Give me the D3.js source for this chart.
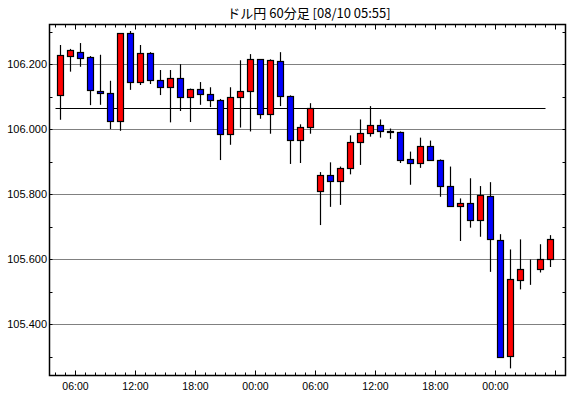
<!DOCTYPE html>
<html>
<head>
<meta charset="utf-8">
<script src="https://cdn.jsdelivr.net/npm/d3@7"></script>
<style>
body { margin: 0; background: #fff; }
text { font-family: "Liberation Sans", Arial, sans-serif; fill: #000; }
</style>
</head>
<body>
<div id="chart"></div>
<script>
var svgWidth = 570;
var svgHeight = 398;

// frame edges (half pixels so 1px lines stay crisp)
var frame = ({top: 24.5, right: 565.5, bottom: 375.5, left: 49.5})

var title = "ドル円 60分足 [08/10 05:55]";

// hourly candles, 08/08 04:00 .. 08/10 05:00
var firstCandle = new Date(2016, 7, 8, 4);
var lastCandle = new Date(2016, 7, 10, 5);
var times = d3.timeHour.range(firstCandle, d3.timeHour.offset(lastCandle, 1));

var open  = [106.105,106.226,106.237,106.222,106.118,106.112,106.025,106.296,106.146,106.235,
             106.151,106.129,106.157,106.098,106.123,106.108,106.090,105.985,106.098,106.117,
             106.215,106.047,106.209,106.102,105.966,106.006,105.809,105.858,105.840,105.880,
             105.960,105.988,106.012,105.994,105.991,105.908,105.895,105.948,105.905,105.825,
             105.763,105.772,105.720,105.794,105.658,105.302,105.535,105.570,105.569,105.600];
var high  = [106.260,106.248,106.266,106.226,106.230,106.150,106.296,106.303,106.260,106.238,
             106.183,106.183,106.201,106.126,106.146,106.130,106.094,106.130,106.213,106.232,
             106.216,106.216,106.238,106.105,106.016,106.081,105.869,105.899,105.886,105.982,
             106.031,106.072,106.031,106.003,105.994,105.932,105.975,105.966,105.908,105.886,
             105.788,105.850,105.826,105.838,105.678,105.631,105.662,105.600,105.647,105.675];
var low   = [106.030,106.178,106.193,106.075,106.076,106.001,105.996,106.122,106.137,106.140,
             106.106,106.022,106.057,106.023,106.076,106.069,105.906,105.953,106.006,105.994,
             106.033,105.987,106.072,105.894,105.897,105.987,105.706,105.762,105.768,105.862,
             105.891,105.978,105.975,105.971,105.897,105.830,105.882,105.905,105.793,105.763,
             105.657,105.698,105.670,105.562,105.298,105.265,105.508,105.522,105.560,105.577];
var close = [106.228,106.244,106.218,106.120,106.111,106.025,106.296,106.146,106.235,106.151,
             106.129,106.157,106.098,106.123,106.108,106.089,105.985,106.098,106.117,106.215,
             106.047,106.212,106.102,105.966,106.006,106.065,105.858,105.840,105.880,105.960,
             105.988,106.012,105.994,105.990,105.906,105.895,105.948,105.905,105.825,105.763,
             105.772,105.720,105.798,105.662,105.298,105.538,105.569,105.570,105.600,105.662];

// previous close reference line
var refLevel = 106.065;

var yTicks = [105.3, 105.4, 105.5, 105.6, 105.7, 105.8, 105.9, 106.0, 106.1, 106.2, 106.3];
var yLabels = [105.4, 105.6, 105.8, 106.0, 106.2];

var candles = times.map(function(t, i) {
    return {time: t, o: open[i], h: high[i], l: low[i], c: close[i]};
});

var svg = d3.select("#chart")
    .append("svg")
    .attr("width", svgWidth)
    .attr("height", svgHeight);

var xScale = d3.scaleTime()
    .domain([new Date(2016, 7, 8, 3, 24), new Date(2016, 7, 10, 7)])
    .range([frame.left, frame.right]);

var yScale = d3.scaleLinear()
    .domain([105.2431, 106.3231])
    .range([frame.bottom, frame.top]);

function px(v) { return Math.round(v - 0.5) + 0.5; }
function center(d) { return px(xScale(d3.timeMinute.offset(d.time, 30))); }

// title
svg.append("text")
    .attr("x", 309)
    .attr("y", 18)
    .attr("text-anchor", "middle")
    .style("font-family", '"Noto Sans CJK JP", sans-serif')
    .style("font-size", "13px")
    .text(title);

// dotted grid
svg.selectAll(".grid")
    .data(yLabels)
    .enter()
    .append("line")
    .classed("grid", true)
    .attr("x1", frame.left)
    .attr("x2", frame.right)
    .attr("y1", d => px(yScale(d)))
    .attr("y2", d => px(yScale(d)))
    .attr("stroke", "#000")
    .attr("stroke-dasharray", "1,1");

// y labels
svg.selectAll(".yLabel")
    .data(yLabels)
    .enter()
    .append("text")
    .classed("yLabel", true)
    .attr("x", 47)
    .attr("y", d => yScale(d))
    .attr("dy", "0.36em")
    .attr("text-anchor", "end")
    .style("font-size", "11px")
    .text(d => d3.format(".3f")(d));

// y ticks, both sides, pointing in
var yTickG = svg.append("g");
yTicks.forEach(function(v) {
    var yy = px(yScale(v));
    yTickG.append("line").attr("x1", frame.left).attr("x2", frame.left + 3)
        .attr("y1", yy).attr("y2", yy).attr("stroke", "#000");
    yTickG.append("line").attr("x1", frame.right).attr("x2", frame.right - 3)
        .attr("y1", yy).attr("y2", yy).attr("stroke", "#000");
});

// x ticks every hour, longer every 6 hours, top and bottom
var hourTicks = xScale.ticks(d3.timeHour.every(1));
var xTickG = svg.append("g");
hourTicks.forEach(function(t) {
    var xx = px(xScale(t));
    var len = (t.getHours() % 6 == 0) ? 5 : 3;
    xTickG.append("line").attr("x1", xx).attr("x2", xx)
        .attr("y1", frame.bottom).attr("y2", frame.bottom - len).attr("stroke", "#000");
    xTickG.append("line").attr("x1", xx).attr("x2", xx)
        .attr("y1", frame.top).attr("y2", frame.top + len).attr("stroke", "#000");
});

var xLabelTimes = hourTicks.filter(t => t.getHours() % 6 == 0 && xScale(t) < frame.right - 20);
svg.selectAll(".xLabel")
    .data(xLabelTimes)
    .enter()
    .append("text")
    .classed("xLabel", true)
    .attr("x", d => xScale(d))
    .attr("y", 390)
    .attr("text-anchor", "middle")
    .style("font-size", "10.5px")
    .text(d => d3.timeFormat("%H:%M")(d));

// reference line
svg.append("line")
    .attr("x1", px(xScale(firstCandle)))
    .attr("x2", px(xScale(lastCandle)))
    .attr("y1", px(yScale(refLevel)))
    .attr("y2", px(yScale(refLevel)))
    .attr("stroke", "#000")
    .attr("stroke-width", 1.2);

// candles
var candleG = svg.selectAll(".candle")
    .data(candles)
    .enter()
    .append("g")
    .classed("candle", true);

candleG.append("line")
    .attr("x1", d => center(d))
    .attr("x2", d => center(d))
    .attr("y1", d => yScale(d.h))
    .attr("y2", d => yScale(d.l))
    .attr("stroke", "#000")
    .attr("stroke-width", 1.2);

candleG.append("rect")
    .attr("x", d => center(d) - 3)
    .attr("width", 6)
    .attr("y", d => px(yScale(Math.max(d.o, d.c))))
    .attr("height", d => Math.max(0, px(yScale(Math.min(d.o, d.c))) - px(yScale(Math.max(d.o, d.c)))))
    .attr("fill", d => d.c >= d.o ? "#ff0000" : "#0000ff")
    .attr("stroke", "#000")
    .attr("stroke-width", 1.2);

// frame
svg.append("rect")
    .attr("x", frame.left)
    .attr("y", frame.top)
    .attr("width", frame.right - frame.left)
    .attr("height", frame.bottom - frame.top)
    .attr("fill", "none")
    .attr("stroke", "#000")
    .attr("stroke-width", 1.5);
</script>
</body>
</html>
